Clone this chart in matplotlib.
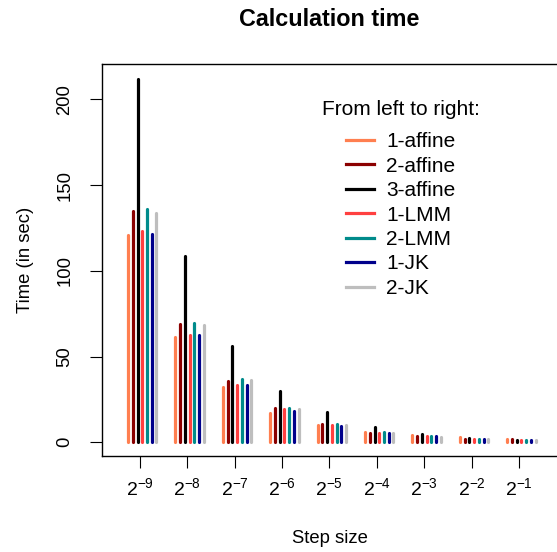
import numpy as np
import matplotlib
matplotlib.use('Agg')
import matplotlib.pyplot as plt

plt.rcParams['font.family'] = ['Liberation Sans', 'DejaVu Sans']
plt.rcParams['mathtext.fontset'] = 'custom'
plt.rcParams['mathtext.rm'] = 'Liberation Sans'
plt.rcParams['mathtext.it'] = 'Liberation Sans'

# 步长 2^-9 ... 2^-1
step_labels = [r'$2^{-9}$', r'$2^{-8}$', r'$2^{-7}$', r'$2^{-6}$', r'$2^{-5}$',
               r'$2^{-4}$', r'$2^{-3}$', r'$2^{-2}$', r'$2^{-1}$']

# 各方法计算时间 (秒)
affine_1 = [120.8, 61.7, 32.3, 17.2, 10.0, 6.1, 4.0, 3.0, 2.2]
affine_2 = [134.8, 68.7, 35.6, 20.1, 10.6, 5.5, 3.5, 2.0, 2.2]
affine_3 = [211.9, 108.7, 56.4, 30.2, 17.4, 9.0, 4.9, 2.6, 1.3]
lmm_1 = [123.3, 62.8, 33.7, 19.5, 10.0, 5.5, 3.5, 2.0, 1.3]
lmm_2 = [135.9, 69.4, 37.0, 20.1, 10.7, 6.2, 3.9, 2.0, 1.3]
jk_1 = [121.2, 62.4, 33.7, 18.5, 9.4, 5.5, 3.5, 2.0, 1.3]
jk_2 = [133.6, 68.3, 36.4, 19.5, 10.0, 5.5, 3.1, 2.0, 1.3]

series = [affine_1, affine_2, affine_3, lmm_1, lmm_2, jk_1, jk_2]
names = ['1-affine', '2-affine', '3-affine', '1-LMM', '2-LMM', '1-JK', '2-JK']
colors = ['#FF7F50', '#8B0000', '#000000', '#FF4040', '#008B8B', '#00008B', '#BEBEBE']

fig = plt.figure(figsize=(5.57, 5.52), dpi=100)
ax = fig.add_axes([0.1831, 0.1745, 0.8169, 0.7095])

x = np.arange(1, len(step_labels) + 1)
for j, (vals, name, col) in enumerate(zip(series, names, colors)):
    xs = x - 0.25 + 0.1 * j
    ax.vlines(xs, 0, vals, colors=col, linewidth=2.3, capstyle='round')
    ax.plot([], [], color=col, linewidth=2.3, label=name)

ax.set_xlim(0.2, 9.8)
ax.set_ylim(-7.8, 220.6)
ax.set_xticks(x)
ax.set_xticklabels(step_labels, fontsize=14)
ax.set_yticks([0, 50, 100, 150, 200])
ax.set_yticklabels(['0', '50', '100', '150', '200'], fontsize=13.3, rotation=90, va='center')
ax.tick_params(axis='x', length=8.6, width=0.8, pad=7)
ax.tick_params(axis='y', length=8.6, width=0.8, pad=12)
ax.spines['right'].set_visible(False)
for s in ['left', 'top', 'bottom']:
    ax.spines[s].set_linewidth(1.0)

ax.set_xlabel('Step size', fontsize=13.3, labelpad=22)
ax.set_ylabel('Time (in sec)', fontsize=13.3, labelpad=16)
fig.suptitle('Calculation time', fontsize=16.8, fontweight='bold', x=0.5916, y=0.985)

leg = ax.legend(title='From left to right:', loc='upper left', bbox_to_anchor=(0.442, 0.957),
                frameon=False, fontsize=15, title_fontsize=15, handlelength=1.35,
                handletextpad=0.55, labelspacing=0.26)
leg._legend_box.align = 'center'
leg._legend_box.sep = 0.26 * 15 + 6

fig.savefig('out.png', dpi=100)
